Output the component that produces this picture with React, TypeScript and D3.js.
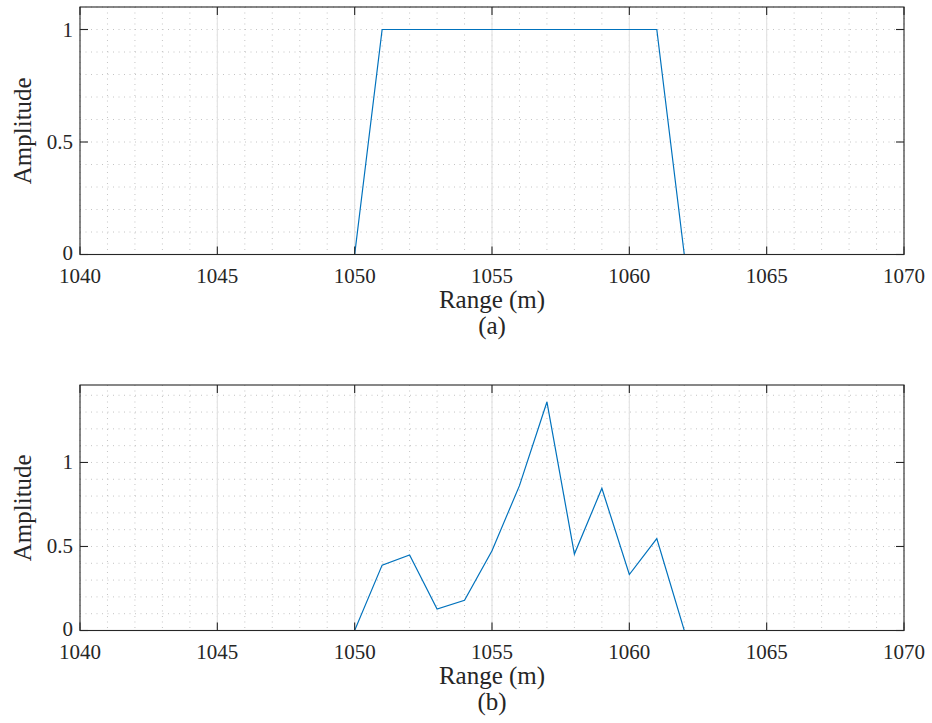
import React from "react";
import * as d3 from "d3";

const rangeM = [1040,1041,1042,1043,1044,1045,1046,1047,1048,1049,1050,1051,1052,1053,1054,1055,1056,1057,1058,1059,1060,1061,1062,1063,1064,1065,1066,1067,1068,1069,1070];
const ampA = [0,0,0,0,0,0,0,0,0,0,0,1,1,1,1,1,1,1,1,1,1,1,0,0,0,0,0,0,0,0,0];
const ampB = [0,0,0,0,0,0,0,0,0,0,0,0.389,0.449,0.128,0.18,0.475,0.862,1.36,0.455,0.846,0.333,0.547,0,0,0,0,0,0,0,0,0];
const xTicks = [1040,1045,1050,1055,1060,1065,1070];
const yTicks = [0,0.5,1];
const yTickLabels = ["0","0.5","1"];
const panelLabels = ["(a)","(b)"];

const FONT = "'Liberation Serif', 'DejaVu Serif', 'Times New Roman', Times, serif";
const AXIS = "#262626";
const LINE = "#0072BD";

type PanelProps = { top: number; bottom: number; ymax: number; values: number[]; label: string };

function Panel({ top, bottom, ymax, values, label }: PanelProps) {
  const left = 80, right = 904;
  const x = d3.scaleLinear().domain([1040, 1070]).range([left, right]);
  const y = d3.scaleLinear().domain([0, ymax]).range([bottom, top]);
  const minorX = d3.range(1040, 1071, 1);
  const minorY = d3.range(0, ymax + 1e-9, 0.1).filter(v => v <= ymax);
  const line = d3.line<number>().x((_, i) => x(rangeM[i])).y(d => y(d));
  const tl = 8;
  const ts = { fontFamily: FONT, fontSize: "21px", fill: AXIS } as React.CSSProperties;
  const ls = { fontFamily: FONT, fontSize: "25px", fill: AXIS } as React.CSSProperties;
  return (
    <g>
      {minorX.map(v => (
        <line key={"mx" + v} x1={x(v)} x2={x(v)} y1={top} y2={bottom} stroke="#c4c4c4" strokeWidth={1} strokeDasharray="1,4.5" />
      ))}
      {minorY.map(v => (
        <line key={"my" + v} x1={left} x2={right} y1={y(v)} y2={y(v)} stroke="#c4c4c4" strokeWidth={1} strokeDasharray="1,4.5" />
      ))}
      {xTicks.slice(1, -1).map(v => (
        <line key={"gx" + v} x1={x(v)} x2={x(v)} y1={top} y2={bottom} stroke="#e3e3e3" strokeWidth={1.2} />
      ))}
      <path d={line(values) || ""} fill="none" stroke={LINE} strokeWidth={1.2} />
      <rect x={left} y={top} width={right - left} height={bottom - top} fill="none" stroke={AXIS} strokeWidth={1.1} />
      {xTicks.map(v => (
        <g key={"xt" + v}>
          <line x1={x(v)} x2={x(v)} y1={bottom} y2={bottom - tl} stroke={AXIS} strokeWidth={1.1} />
          <line x1={x(v)} x2={x(v)} y1={top} y2={top + tl} stroke={AXIS} strokeWidth={1.1} />
          <text x={x(v)} y={bottom + 28} textAnchor="middle" style={ts}>{v}</text>
        </g>
      ))}
      {yTicks.map((v, i) => (
        <g key={"yt" + v}>
          <line x1={left} x2={left + tl} y1={y(v)} y2={y(v)} stroke={AXIS} strokeWidth={1.1} />
          <line x1={right} x2={right - tl} y1={y(v)} y2={y(v)} stroke={AXIS} strokeWidth={1.1} />
          <text x={left - 7} y={y(v) + (v === 0 ? 5 : 7)} textAnchor="end" style={ts}>{yTickLabels[i]}</text>
        </g>
      ))}
      <text transform={`translate(31,${(top + bottom) / 2}) rotate(-90)`} textAnchor="middle" style={ls}>Amplitude</text>
      <text x={(left + right) / 2} y={bottom + 53} textAnchor="middle" style={ls}>Range (m)</text>
      <text x={(left + right) / 2} y={bottom + 79} textAnchor="middle" style={ls}>{label}</text>
    </g>
  );
}

export default function App() {
  return (
    <svg width={932} height={723} style={{ position: "absolute", left: 0, top: 0, background: "#fff" }}>
      <rect width={932} height={723} fill="#fff" />
      <Panel top={7} bottom={254.5} ymax={1.1} values={ampA} label={panelLabels[0]} />
      <Panel top={385} bottom={630.5} ymax={1.461} values={ampB} label={panelLabels[1]} />
    </svg>
  );
}
